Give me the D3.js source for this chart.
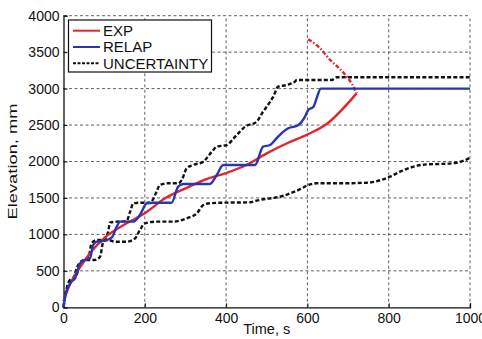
<!DOCTYPE html>
<html>
<head>
<meta charset="utf-8">
<script src="https://cdn.jsdelivr.net/npm/d3@7/dist/d3.min.js"></script>
<style>
  html, body { margin: 0; padding: 0; background: #fff; }
  svg { display: block; font-family: "Liberation Sans", Arial, sans-serif; }
</style>
</head>
<body>
<svg id="chart" width="482" height="339"></svg>
<script>
// Axis ticks
const xTicks = [0, 200, 400, 600, 800, 1000];
const yTicks = [0, 500, 1000, 1500, 2000, 2500, 3000, 3500, 4000];

// Measured quench front elevation (time s, elevation mm)
const expTime = [0, 4, 50, 100, 150, 200, 250, 300, 350, 400, 450, 500, 550, 600, 650, 700, 721];
const expElev = [80, 150, 625, 950, 1135, 1290, 1495, 1632, 1756, 1842, 1952, 2112, 2250, 2370, 2524, 2800, 2935];

// Extrapolated part of the measured curve
const expExtTime = [602, 630, 656, 680, 697, 710, 721];
const expExtElev = [3676, 3560, 3392, 3270, 3163, 3060, 2935];

// RELAP prediction
const relapTime = [0, 4, 16, 28, 41, 53, 65, 73, 82, 102, 119, 131, 139, 172, 188, 205, 221, 266, 282, 295, 360, 377, 393, 471, 491, 508, 524, 541, 553, 578, 594, 602, 615, 624, 633, 1000];
const relapElev = [0, 145, 329, 398, 604, 649, 672, 855, 900, 914, 960, 1106, 1175, 1175, 1266, 1427, 1435, 1435, 1655, 1691, 1691, 1815, 1952, 1952, 2203, 2226, 2318, 2409, 2455, 2500, 2615, 2706, 2752, 2889, 3000, 3000];

// Uncertainty band, upper bound
const upperTime = [0, 4, 12, 24, 36, 49, 61, 69, 82, 98, 110, 114, 131, 155, 164, 172, 192, 213, 229, 237, 258, 282, 291, 303, 319, 344, 365, 377, 401, 426, 447, 475, 491, 500, 516, 528, 549, 569, 574, 615, 660, 672, 1000];
const upperElev = [0, 145, 329, 398, 580, 649, 672, 878, 923, 923, 1037, 1161, 1175, 1184, 1312, 1427, 1435, 1435, 1586, 1678, 1701, 1701, 1746, 1906, 1952, 1998, 2135, 2203, 2226, 2363, 2478, 2546, 2683, 2752, 2889, 3026, 3049, 3095, 3118, 3118, 3118, 3155, 3155];

// Uncertainty band, lower bound
const lowerTime = [0, 4, 16, 28, 41, 57, 77, 90, 98, 110, 127, 155, 176, 188, 200, 229, 270, 303, 328, 344, 360, 393, 459, 475, 541, 582, 602, 623, 680, 746, 803, 828, 865, 893, 926, 967, 1000];
const lowerElev = [0, 145, 375, 398, 580, 649, 649, 694, 900, 923, 900, 900, 946, 1060, 1152, 1175, 1175, 1221, 1289, 1403, 1427, 1435, 1440, 1463, 1530, 1620, 1678, 1701, 1701, 1709, 1792, 1860, 1935, 1961, 1966, 1983, 2050];

const legendLabels = ["EXP", "RELAP", "UNCERTAINTY"];

const svg = d3.select("#chart");
const margin = { left: 63.5, right: 12, top: 15.7, bottom: 31.7 };
const W = 482, H = 339;

const x = d3.scaleLinear().domain([0, 1000]).range([margin.left, W - margin.right]);
const y = d3.scaleLinear().domain([0, 4000]).range([H - margin.bottom, margin.top]);

// Dashed grid
const grid = svg.append("g").attr("stroke", "#333").attr("stroke-width", 0.9)
  .attr("stroke-dasharray", "3,2.5").attr("opacity", 0.85);
grid.selectAll("line.v").data(xTicks.slice(1)).join("line")
  .attr("x1", d => x(d)).attr("x2", d => x(d))
  .attr("y1", y(0)).attr("y2", y(4000));
grid.selectAll("line.h").data(yTicks.slice(1)).join("line")
  .attr("x1", x(0)).attr("x2", x(1000))
  .attr("y1", d => y(d)).attr("y2", d => y(d));

// Axes with inward ticks
const xAxis = d3.axisBottom(x).tickValues(xTicks).tickSize(-4).tickPadding(7).tickFormat(d3.format("d"));
const yAxis = d3.axisLeft(y).tickValues(yTicks).tickSize(-4).tickPadding(4).tickFormat(d3.format("d"));

const gx = svg.append("g").attr("transform", `translate(0,${y(0)})`).call(xAxis);
const gy = svg.append("g").attr("transform", `translate(${x(0)},0)`).call(yAxis);
[gx, gy].forEach(g => {
  g.select(".domain").attr("stroke", "#111").attr("stroke-width", 1.3);
  g.selectAll(".tick line").attr("stroke", "#111");
  g.selectAll(".tick text").attr("font-size", 14).attr("fill", "#111")
    .attr("font-family", "Liberation Sans, Arial, sans-serif");
});
gx.selectAll(".tick text").attr("dy", "0.6em");

// Axis titles
svg.append("text").attr("x", (x(0) + x(1000)) / 2).attr("y", 334)
  .attr("text-anchor", "middle").attr("font-size", 14.5).attr("fill", "#111").text("Time, s");
svg.append("text").attr("transform", `translate(17,${(y(0) + y(4000)) / 2}) rotate(-90)`)
  .attr("text-anchor", "middle").attr("font-size", 12.5).attr("fill", "#111")
  .attr("textLength", 116).attr("lengthAdjust", "spacingAndGlyphs").text("Elevation, mm");

const mk = d3.line().x(d => x(d[0])).y(d => y(d[1])).curve(d3.curveMonotoneX);
const zip = (a, b) => a.map((v, i) => [v, b[i]]);

const plot = svg.append("g").attr("fill", "none").attr("stroke-linejoin", "round");

plot.append("path").attr("d", mk(zip(lowerTime, lowerElev)))
  .attr("stroke", "#111").attr("stroke-width", 2.4).attr("stroke-dasharray", "4,2.2");
plot.append("path").attr("d", mk(zip(upperTime, upperElev)))
  .attr("stroke", "#111").attr("stroke-width", 2.4).attr("stroke-dasharray", "4,2.2");
plot.append("path").attr("d", mk(zip(expTime, expElev)))
  .attr("stroke", "#e1262b").attr("stroke-width", 2.4);
plot.append("path").attr("d", mk(zip(expExtTime, expExtElev)))
  .attr("stroke", "#e1262b").attr("stroke-width", 2.4).attr("stroke-dasharray", "4,2,1.5,2");
plot.append("path").attr("d", mk(zip(relapTime, relapElev)))
  .attr("stroke", "#2a36b0").attr("stroke-width", 2.4);

// Legend
const lg = svg.append("g");
lg.append("rect").attr("x", 68.5).attr("y", 20).attr("width", 143).attr("height", 52)
  .attr("fill", "#fff").attr("stroke", "#111").attr("stroke-width", 1.2);
const legendStyles = [
  { stroke: "#e1262b", dash: null },
  { stroke: "#2a36b0", dash: null },
  { stroke: "#111", dash: "3,1.5" }
];
legendLabels.forEach((lab, i) => {
  const yy = 30.7 + i * 16.3;
  lg.append("line").attr("x1", 73).attr("x2", 100).attr("y1", yy).attr("y2", yy)
    .attr("stroke", legendStyles[i].stroke).attr("stroke-width", 2)
    .attr("stroke-dasharray", legendStyles[i].dash);
  lg.append("text").attr("x", 103).attr("y", yy).attr("dy", "0.36em")
    .attr("font-size", 15).attr("fill", "#111").text(lab);
});
</script>
</body>
</html>
